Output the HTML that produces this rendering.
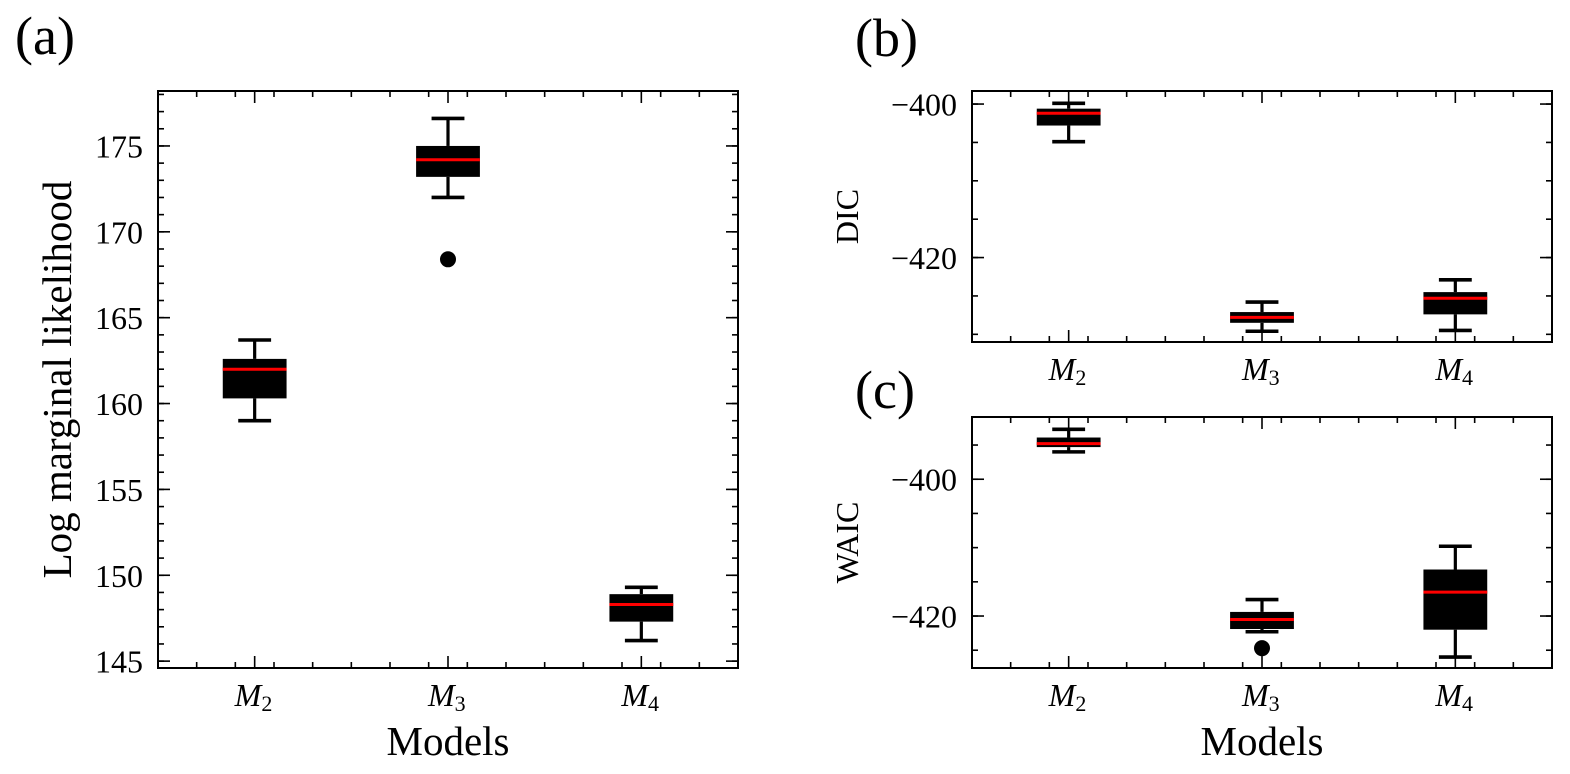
<!DOCTYPE html>
<html><head><meta charset="utf-8"><style>
html,body{margin:0;padding:0;background:#fff;}
svg{display:block;font-family:"Liberation Serif","DejaVu Serif",serif;}
</style></head><body>
<svg id="fig" width="1570" height="774" viewBox="0 0 1570 774" xmlns="http://www.w3.org/2000/svg"></svg>
<script>
const categories = ["2","3","4"];
// panel a: Log marginal likelihood
const aWhiskLo = [159.0, 172.0, 146.2];
const aQ1      = [160.3, 173.2, 147.3];
const aMed     = [162.0, 174.2, 148.3];
const aQ3      = [162.6, 175.0, 148.9];
const aWhiskHi = [163.7, 176.6, 149.3];
const aOutliers = [[], [168.4], []];
const aTicks = [145,150,155,160,165,170,175];
// panel b: DIC
const bWhiskLo = [-404.9, -429.6, -429.5];
const bQ1      = [-402.8, -428.5, -427.4];
const bMed     = [-401.2, -427.8, -425.3];
const bQ3      = [-400.6, -427.1, -424.5];
const bWhiskHi = [-399.9, -425.8, -422.9];
const bOutliers = [[], [], []];
const bTicks = [-420, -400];
// panel c: WAIC
const cWhiskLo = [-396.0, -422.3, -426.0];
const cQ1      = [-395.3, -421.9, -422.0];
const cMed     = [-394.8, -420.5, -416.5];
const cQ3      = [-393.9, -419.4, -413.2];
const cWhiskHi = [-392.7, -417.6, -409.8];
const cOutliers = [[], [-424.7], []];
const cTicks = [-420, -400];

const NS = "http://www.w3.org/2000/svg";
const svg = document.getElementById('fig');
function el(tag, attrs, parent){
  const e = document.createElementNS(NS, tag);
  for (const k in attrs) e.setAttribute(k, attrs[k]);
  (parent||svg).appendChild(e);
  return e;
}
function fmt(v){ return v < 0 ? "\u2212" + Math.abs(v) : String(v); }

function panel(opt){
  const {x0,x1,y0,y1,ymin,ymax,minorStep,ticks,lo,q1,med,q3,hi,outl,name,ylabel,ylabX,ylabSize,xlabel} = opt;
  const g = el('g', {});
  
  
  const sx = v => x0 + (v - 0.5) / 3 * (x1 - x0);
  const sy = v => y1 - (v - ymin) / (ymax - ymin) * (y1 - y0);
  const unit = (x1 - x0) / 3;
  for (let v = Math.ceil(ymin / minorStep) * minorStep; v <= ymax; v += minorStep) {
    const y = sy(v);
    el('line', {x1:x0, x2:x0+6, y1:y, y2:y, stroke:'#000','stroke-width':1.6}, g);
    el('line', {x1:x1, x2:x1-6, y1:y, y2:y, stroke:'#000','stroke-width':1.6}, g);
  }
  ticks.forEach(v => {
    const y = sy(v);
    el('line', {x1:x0, x2:x0+12, y1:y, y2:y, stroke:'#000','stroke-width':1.6}, g);
    el('line', {x1:x1, x2:x1-12, y1:y, y2:y, stroke:'#000','stroke-width':1.6}, g);
    const t = el('text', {x:x0-15, y:y+11.5, 'text-anchor':'end', 'font-size':32}, g);
    t.textContent = fmt(v);
    
    
  });
  for (let k = 0; k <= 15; k++) {
    const v = 0.5 + k * 0.2;
    const x = sx(v);
    if (x <= x0 + 1 || x >= x1 - 1) continue;
    el('line', {x1:x, x2:x, y1:y1, y2:y1-6, stroke:'#000','stroke-width':1.6}, g);
    el('line', {x1:x, x2:x, y1:y0, y2:y0+6, stroke:'#000','stroke-width':1.6}, g);
  }
  categories.forEach((c, i) => {
    const x = sx(i + 1);
    el('line', {x1:x, x2:x, y1:y1, y2:y1-12, stroke:'#000','stroke-width':1.6}, g);
    el('line', {x1:x, x2:x, y1:y0, y2:y0+12, stroke:'#000','stroke-width':1.6}, g);
    const t = el('text', {x:x-20, y:y1+38, 'font-size':32, 'font-style':'italic'}, g);
    
    
    t.textContent = 'M';
    const s = el('tspan', {'font-size':22, 'font-style':'normal', dy:5}, t);
    s.textContent = c;
    const bw = 0.165 * unit, cw = 0.085 * unit;
    const bg = el('g', {}, g);
    
    
    el('line', {x1:x, x2:x, y1:sy(hi[i]), y2:sy(q3[i]), stroke:'#000','stroke-width':3.2}, bg);
    el('line', {x1:x, x2:x, y1:sy(lo[i]), y2:sy(q1[i]), stroke:'#000','stroke-width':3.2}, bg);
    el('line', {x1:x-cw, x2:x+cw, y1:sy(hi[i]), y2:sy(hi[i]), stroke:'#000','stroke-width':3.6}, bg);
    el('line', {x1:x-cw, x2:x+cw, y1:sy(lo[i]), y2:sy(lo[i]), stroke:'#000','stroke-width':3.6}, bg);
    el('rect', {x:x-bw, y:sy(q3[i]), width:2*bw, height:sy(q1[i])-sy(q3[i]), fill:'#000'}, bg);
    el('line', {x1:x-bw, x2:x+bw, y1:sy(med[i]), y2:sy(med[i]), stroke:'#ff0000','stroke-width':3}, bg);
    outl[i].forEach(o => {
      const p = el('circle', {cx:x, cy:sy(o), r:8, fill:'#000'}, bg);
      
      
    });
  });
  el('rect', {x:x0, y:y0, width:x1-x0, height:y1-y0, fill:'none', stroke:'#000', 'stroke-width':2}, g);
  const yl = el('text', {x:ylabX, y:(y0+y1)/2, 'text-anchor':'middle', 'font-size':ylabSize, transform:`rotate(-90 ${ylabX} ${(y0+y1)/2})`}, g);
  yl.textContent = ylabel;
  
  
  if (xlabel) {
    const xl = el('text', {x:(x0+x1)/2, y:y1+87, 'text-anchor':'middle', 'font-size':41}, g);
    xl.textContent = 'Models';
    
    
  }
}

panel({name:'panel-a', x0:158, x1:738, y0:91, y1:668, ymin:144.6, ymax:178.2, minorStep:1, ticks:aTicks,
  lo:aWhiskLo,q1:aQ1,med:aMed,q3:aQ3,hi:aWhiskHi,outl:aOutliers, ylabel:'Log marginal likelihood', ylabX:71, ylabSize:41, xlabel:true});
panel({name:'panel-b', x0:972, x1:1552, y0:91, y1:342, ymin:-431.0, ymax:-398.3, minorStep:5, ticks:bTicks,
  lo:bWhiskLo,q1:bQ1,med:bMed,q3:bQ3,hi:bWhiskHi,outl:bOutliers, ylabel:'DIC', ylabX:858, ylabSize:32, xlabel:false});
panel({name:'panel-c', x0:972, x1:1552, y0:417, y1:668, ymin:-427.6, ymax:-390.9, minorStep:5, ticks:cTicks,
  lo:cWhiskLo,q1:cQ1,med:cMed,q3:cQ3,hi:cWhiskHi,outl:cOutliers, ylabel:'WAIC', ylabX:858, ylabSize:32, xlabel:true});

[['(a)',15,54,'panel-label-a'],['(b)',855,56,'panel-label-b'],['(c)',855,408,'panel-label-c']].forEach(([s,x,y,n])=>{
  const t = el('text', {x:x, y:y, 'font-size':54});
  t.textContent = s;
  
  
});
</script>
</body></html>
